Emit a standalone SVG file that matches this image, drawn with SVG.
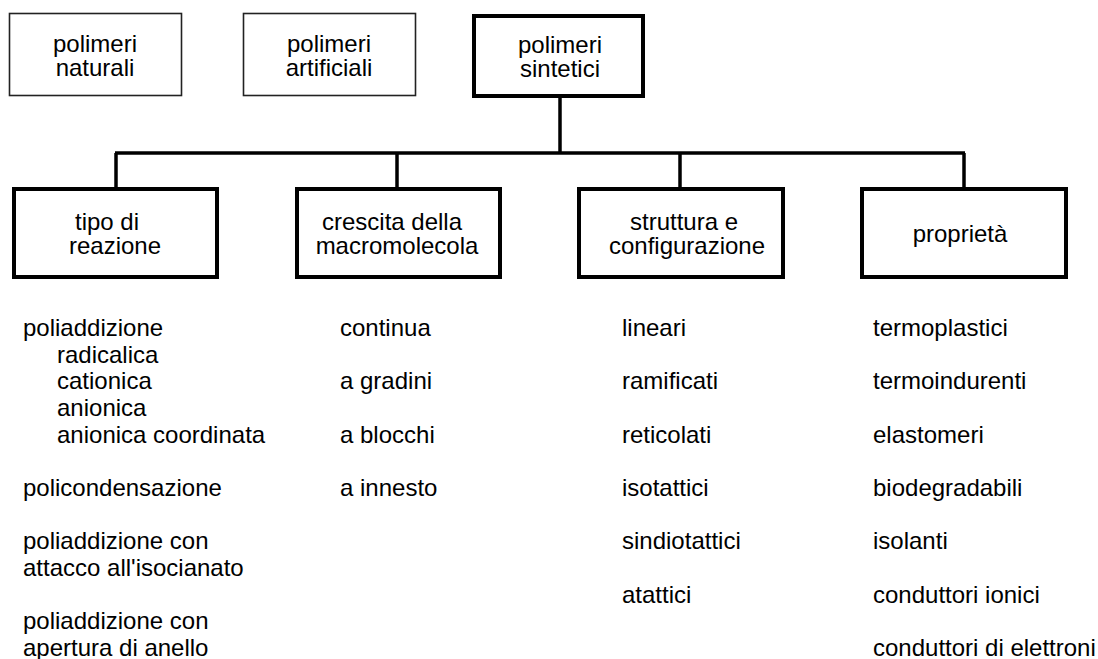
<svg xmlns="http://www.w3.org/2000/svg" width="1098" height="659" viewBox="0 0 1098 659">
<style>
text{font-family:"Liberation Sans",Arial,sans-serif;font-size:24px;fill:#000}
.c{text-anchor:middle}
.thin{fill:#fff;stroke:#222;stroke-width:1.6}
.thick{fill:#fff;stroke:#000;stroke-width:4}
.ln{stroke:#000;stroke-width:3.5;fill:none}
</style>
<rect width="1098" height="659" fill="#fff"/>
<g id="connectors">
<line class="ln" x1="560" y1="96" x2="560" y2="153"/>
<line class="ln" x1="115" y1="153" x2="965" y2="153"/>
<line class="ln" x1="116" y1="153" x2="116" y2="187"/>
<line class="ln" x1="397" y1="153" x2="397" y2="187"/>
<line class="ln" x1="680" y1="153" x2="680" y2="187"/>
<line class="ln" x1="964" y1="153" x2="964" y2="187"/>
</g>
<g id="n-naturali">
<rect class="thin" x="9.5" y="13.5" width="172" height="82"/>
<text class="c" x="95" y="52">polimeri</text>
<text class="c" x="95" y="76">naturali</text>
</g>
<g id="n-artificiali">
<rect class="thin" x="243.5" y="13.5" width="172" height="82"/>
<text class="c" x="329" y="52">polimeri</text>
<text class="c" x="329" y="76">artificiali</text>
</g>
<g id="n-sintetici">
<rect class="thick" x="474" y="16" width="169" height="80"/>
<text class="c" x="560" y="53">polimeri</text>
<text class="c" x="560" y="77">sintetici</text>
</g>
<g id="n-reazione">
<rect class="thick" x="14" y="189" width="203" height="88"/>
<text class="c" x="107" y="230">tipo di</text>
<text class="c" x="115" y="254">reazione</text>
</g>
<g id="n-crescita">
<rect class="thick" x="297" y="189" width="203" height="88"/>
<text class="c" x="392" y="230">crescita della</text>
<text class="c" x="397" y="254">macromolecola</text>
</g>
<g id="n-struttura">
<rect class="thick" x="579" y="189" width="204" height="88"/>
<text class="c" x="684" y="230">struttura e</text>
<text class="c" x="687" y="254">configurazione</text>
</g>
<g id="n-proprieta">
<rect class="thick" x="862" y="189" width="204" height="88"/>
<text class="c" x="960" y="242">proprietà</text>
</g>
<g id="list-reazione">
<text x="23" y="336">poliaddizione</text>
<text x="57" y="362.7">radicalica</text>
<text x="57" y="389.3">cationica</text>
<text x="57" y="416">anionica</text>
<text x="57" y="442.7">anionica coordinata</text>
<text x="23" y="496">policondensazione</text>
<text x="23" y="549.3">poliaddizione con</text>
<text x="23" y="576">attacco all'isocianato</text>
<text x="23" y="629.3">poliaddizione con</text>
<text x="23" y="656">apertura di anello</text>
</g>
<g id="list-crescita">
<text x="340" y="336">continua</text>
<text x="340" y="389.3">a gradini</text>
<text x="340" y="442.7">a blocchi</text>
<text x="340" y="496">a innesto</text>
</g>
<g id="list-struttura">
<text x="622" y="336">lineari</text>
<text x="622" y="389.3">ramificati</text>
<text x="622" y="442.7">reticolati</text>
<text x="622" y="496">isotattici</text>
<text x="622" y="549.3">sindiotattici</text>
<text x="622" y="602.7">atattici</text>
</g>
<g id="list-proprieta">
<text x="873" y="336">termoplastici</text>
<text x="873" y="389.3">termoindurenti</text>
<text x="873" y="442.7">elastomeri</text>
<text x="873" y="496">biodegradabili</text>
<text x="873" y="549.3">isolanti</text>
<text x="873" y="602.7">conduttori ionici</text>
<text x="873" y="656">conduttori di elettroni</text>
</g>
</svg>
